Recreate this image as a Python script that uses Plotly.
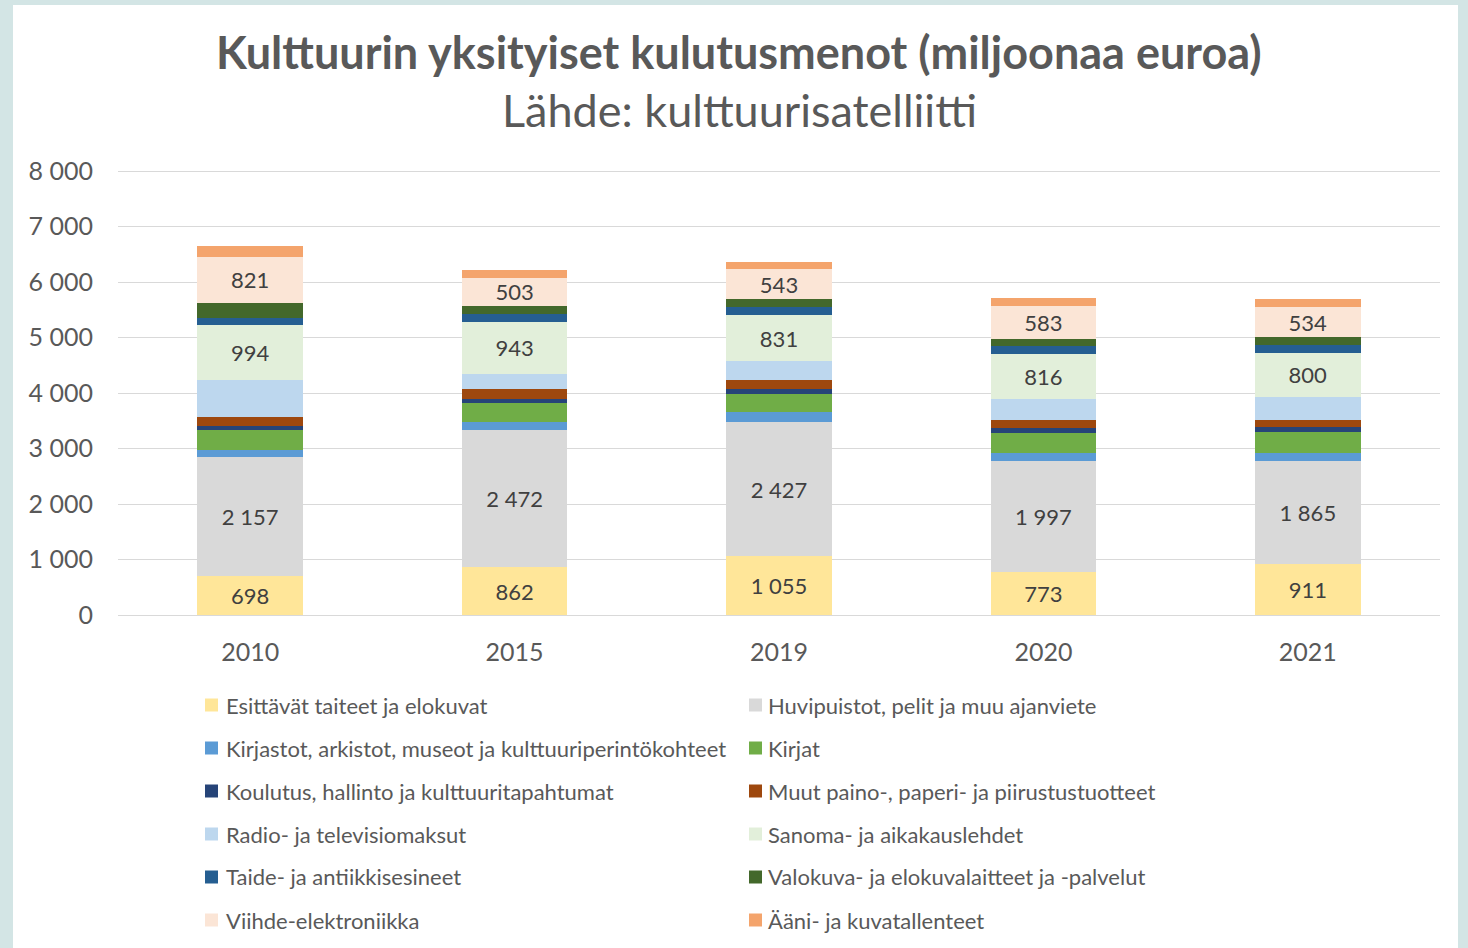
import plotly.graph_objects as go

years = ["2010", "2015", "2019", "2020", "2021"]

series_names = [
    "Esittävät taiteet ja elokuvat",
    "Huvipuistot, pelit ja muu ajanviete",
    "Kirjastot, arkistot, museot ja kulttuuriperintökohteet",
    "Kirjat",
    "Koulutus, hallinto ja kulttuuritapahtumat",
    "Muut paino-, paperi- ja piirustustuotteet",
    "Radio- ja televisiomaksut",
    "Sanoma- ja aikakauslehdet",
    "Taide- ja antiikkisesineet",
    "Valokuva- ja elokuvalaitteet ja -palvelut",
    "Viihde-elektroniikka",
    "Ääni- ja kuvatallenteet",
]

esittavat = [698, 862, 1055, 773, 911]
huvipuistot = [2157, 2472, 2427, 1997, 1865]
kirjastot = [120, 150, 180, 150, 145]
kirjat = [360, 340, 330, 360, 378]
koulutus = [78, 72, 90, 90, 90]
muut_paino = [162, 180, 162, 140, 133]
radio_tv = [656, 270, 330, 385, 407]
sanoma = [994, 943, 831, 816, 800]
taide = [133, 144, 155, 138, 144]
valokuva = [270, 139, 133, 133, 138]
viihde = [821, 503, 543, 583, 534]
aani = [210, 144, 132, 144, 156]

series_values = [esittavat, huvipuistot, kirjastot, kirjat, koulutus, muut_paino,
                 radio_tv, sanoma, taide, valokuva, viihde, aani]

colors = ["#FFE699", "#D9D9D9", "#5B9BD5", "#70AD47", "#264478", "#9E480E",
          "#BDD7EE", "#E2EFDA", "#255E91", "#43682B", "#FBE5D6", "#F4A46C"]

labelled = {0, 1, 7, 10}

FONT = "Lato"

# pixel geometry helpers (plot area: x 118..1440, y 170..615)
L, R, T, B = 118, 1440, 170, 615
W, H = 1468, 948


def px(x):
    return (x - L) / (R - L)


def py(y):
    return (B - y) / (B - T)


fig = go.Figure()
for i, (name, vals, col) in enumerate(zip(series_names, series_values, colors)):
    fig.add_trace(go.Bar(
        x=years, y=vals, name=name, marker=dict(color=col, line=dict(width=0)),
        texttemplate="%{y:,}" if i in labelled else None,
        textposition="inside" if i in labelled else "none",
        insidetextanchor="middle",
        textangle=0,
        textfont=dict(family=FONT, size=22, color="#404040"),
        showlegend=False,
    ))

shapes = [
    dict(type="rect", xref="paper", yref="paper", x0=px(13), x1=px(1458),
         y0=py(H + 10), y1=py(5), fillcolor="white", line=dict(width=0), layer="below"),
]
annotations = [
    dict(text="<b>Kulttuurin yksityiset kulutusmenot (miljoonaa euroa)</b>",
         xref="paper", yref="paper", x=px(739), y=py(52), xanchor="center", yanchor="middle",
         showarrow=False, font=dict(family=FONT, size=45, color="#595959")),
    dict(text="Lähde: kulttuurisatelliitti",
         xref="paper", yref="paper", x=px(739), y=py(110), xanchor="center", yanchor="middle",
         showarrow=False, font=dict(family=FONT, size=45, color="#595959")),
]

# manual legend: two columns, six rows
row_y = [705, 748, 791, 834, 877, 920]
col_sq = [205, 749]
col_tx = [224, 766]
sq = 13
for i, (name, col) in enumerate(zip(series_names, colors)):
    r, c = divmod(i, 2)
    yc = row_y[r]
    shapes.append(dict(type="rect", xref="paper", yref="paper",
                       x0=px(col_sq[c]), x1=px(col_sq[c] + sq),
                       y0=py(yc + sq / 2), y1=py(yc - sq / 2),
                       fillcolor=col, line=dict(width=0), layer="above"))
    annotations.append(dict(text=name, xref="paper", yref="paper",
                            x=px(col_tx[c]), y=py(yc), xanchor="left", yanchor="middle",
                            showarrow=False,
                            font=dict(family=FONT, size=22, color="#595959")))

fig.update_layout(
    width=W, height=H,
    barmode="stack", bargap=0.6,
    separators=", ",
    paper_bgcolor="#D3E5E5", plot_bgcolor="rgba(0,0,0,0)",
    margin=dict(l=L, r=W - R, t=T, b=H - B, pad=0),
    showlegend=False,
    shapes=shapes, annotations=annotations,
    uniformtext=dict(minsize=22, mode="show"),
    font=dict(family=FONT, color="#595959"),
)
fig.update_yaxes(range=[0, 8020], dtick=1000, tickformat=",", showgrid=True,
                 gridcolor="#D9D9D9", gridwidth=1, zeroline=True, zerolinecolor="#D9D9D9",
                 zerolinewidth=1, showline=False, ticks="", ticklabelstandoff=24,
                 tickfont=dict(family=FONT, size=25, color="#595959"))
fig.update_xaxes(showgrid=False, showline=False, ticks="", ticklabelstandoff=20,
                 tickfont=dict(family=FONT, size=25, color="#595959"))

fig.write_html("out.html")
